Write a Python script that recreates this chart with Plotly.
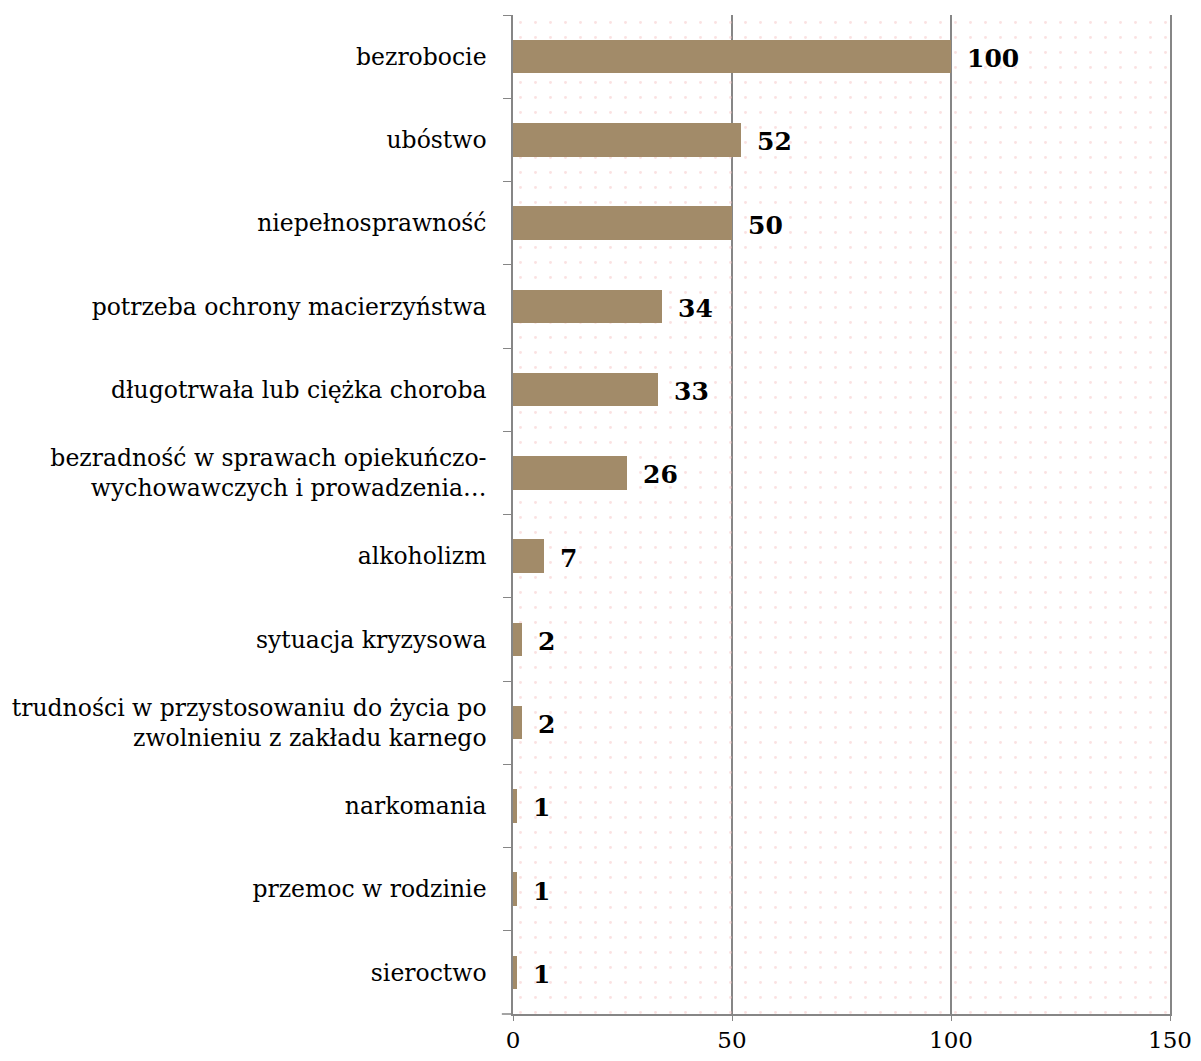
import plotly.graph_objects as go

categories = [
    "bezrobocie",
    "ubóstwo",
    "niepełnosprawność",
    "potrzeba ochrony macierzyństwa",
    "długotrwała lub ciężka choroba",
    "bezradność w sprawach opiekuńczo-<br>wychowawczych i prowadzenia…",
    "alkoholizm",
    "sytuacja kryzysowa",
    "trudności w przystosowaniu do życia po<br>zwolnieniu z zakładu karnego",
    "narkomania",
    "przemoc w rodzinie",
    "sieroctwo",
]
values = [100, 52, 50, 34, 33, 26, 7, 2, 2, 1, 1, 1]
x_ticks = [0, 50, 100, 150]

FONT = "DejaVu Serif"
AXIS = "#868686"
x_max = x_ticks[-1]

fig = go.Figure()

# dotted background pattern over the plot area (transparent so gridlines show)
fig.add_trace(go.Bar(
    y=categories, x=[x_max] * len(categories), orientation="h",
    width=1, hoverinfo="skip", showlegend=False,
    marker=dict(color="rgba(0,0,0,0)", line_width=0,
                pattern=dict(shape=".", fgcolor="#f6c4c4",
                             bgcolor="rgba(0,0,0,0)", size=15, solidity=0.03)),
))

fig.add_trace(go.Bar(
    y=categories, x=values, orientation="h", width=0.4,
    marker=dict(color="#a28b69", line=dict(color="#a28b69", width=0)),
    showlegend=False,
))

for c, v in zip(categories, values):
    fig.add_annotation(x=v, y=c, text=f"<b>{v}</b>", showarrow=False,
                       xanchor="left", xshift=14, yshift=-2,
                       font=dict(family=FONT, size=25, color="black"))

# short stub of the x axis line poking left past the y axis
fig.add_shape(type="line", xref="x domain", yref="y domain",
              x0=-0.017, x1=0, y0=0, y1=0, line=dict(color=AXIS, width=1.5))

# page body has an 8px margin; the figure must fit inside the window
fig.update_layout(
    width=1185, height=1045,
    margin=dict(l=505, r=23, t=7, b=39, autoexpand=False),
    plot_bgcolor="white", paper_bgcolor="white",
    barmode="overlay", bargap=0,
    font=dict(family=FONT, size=23.5, color="black"),
)
fig.update_xaxes(
    range=[0, x_max], tickvals=x_ticks, showgrid=True, gridcolor=AXIS,
    gridwidth=1.5, showline=True, linecolor=AXIS, linewidth=1.5,
    ticks="outside", ticklen=5, tickcolor=AXIS, zeroline=False,
    tickfont=dict(size=23), automargin=False, ticklabelstandoff=0,
    ticklabeloverflow="allow",
)
fig.update_yaxes(
    autorange="reversed", showline=True, linecolor=AXIS, linewidth=1.5,
    mirror=True, ticks="outside", ticklen=8, tickcolor=AXIS, showgrid=False,
    tickson="boundaries", ticklabelstandoff=20, automargin=False,
)

fig.write_html("out.html")
